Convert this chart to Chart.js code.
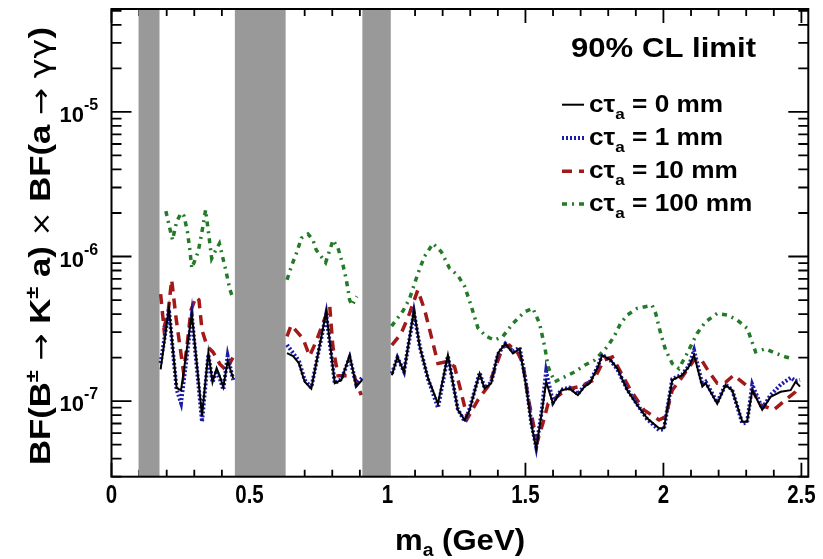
<!DOCTYPE html>
<html>
<head>
<meta charset="utf-8">
<script src="https://cdn.jsdelivr.net/npm/chart.js@4.4.1/dist/chart.umd.min.js"></script>
<style>
html, body { margin: 0; padding: 0; background: #fff; }
</style>
</head>
<body>
<canvas id="myChart" width="823" height="559"></canvas>
<script>
// m_a (GeV) for the 0 mm and 1 mm curves, null entries break the line at the vetoed regions
var mass0 = [0.178,0.208,0.236,0.252,0.291,0.328,0.351,0.366,0.381,0.393,0.405,0.421,0.441,
   0.54,
   0.636,0.658,0.679,0.700,0.724,0.778,0.809,0.833,0.863,0.887,0.908,
   0.96,
   1.016,1.036,1.060,1.096,1.117,1.147,1.183,1.219,1.255,1.280,1.298,1.322,1.334,1.352,1.376,1.400,
   1.427,1.455,1.479,1.503,1.521,1.539,1.557,1.575,1.600,1.630,1.660,1.690,1.714,1.733,1.763,1.778,
   1.809,1.833,1.869,1.905,1.941,1.984,2.002,2.032,2.068,2.092,2.111,2.141,2.153,2.195,2.225,2.249,
   2.286,2.303,2.322,2.358,2.388,2.425,2.461,2.479,2.495];
var limit0 = [1.66e-7,4.4e-7,1.23e-7,1.19e-7,4.0e-7,7.9e-8,2.17e-7,1.35e-7,1.69e-7,1.47e-7,1.25e-7,1.89e-7,1.44e-7,
   null,
   2.15e-7,2.05e-7,1.83e-7,1.36e-7,1.22e-7,4.15e-7,1.33e-7,1.40e-7,2.08e-7,1.26e-7,1.40e-7,
   null,
   1.51e-7,2.02e-7,1.59e-7,4.26e-7,2.37e-7,1.44e-7,9.6e-8,2.08e-7,8.7e-8,7.4e-8,8.7e-8,1.29e-7,1.55e-7,1.22e-7,1.33e-7,2.14e-7,
   2.5e-7,2.14e-7,2.3e-7,1.26e-7,7.0e-8,4.7e-8,7.8e-8,1.36e-7,9.6e-8,1.19e-7,1.22e-7,1.10e-7,1.26e-7,1.33e-7,1.73e-7,2.08e-7,
   1.92e-7,1.68e-7,1.19e-7,9.4e-8,7.6e-8,6.5e-8,6.5e-8,1.40e-7,1.51e-7,1.73e-7,2.08e-7,1.26e-7,1.33e-7,9.6e-8,1.29e-7,1.19e-7,
   7.2e-8,7.2e-8,1.19e-7,8.7e-8,1.07e-7,1.16e-7,1.19e-7,1.36e-7,1.26e-7];
var limit1 = [1.83e-7,4.3e-7,1.2e-7,9.7e-8,3.9e-7,7.2e-8,2.1e-7,1.35e-7,1.62e-7,1.42e-7,1.2e-7,2.05e-7,1.4e-7,
   null,
   2.45e-7,2.15e-7,1.9e-7,1.4e-7,1.24e-7,4.0e-7,1.33e-7,1.42e-7,2.0e-7,1.3e-7,1.45e-7,
   null,
   1.55e-7,2.0e-7,1.6e-7,4.1e-7,2.4e-7,1.42e-7,9.0e-8,2.05e-7,8.8e-8,7.2e-8,8.9e-8,1.3e-7,1.57e-7,1.24e-7,1.35e-7,2.1e-7,
   2.5e-7,2.2e-7,2.35e-7,1.3e-7,7.1e-8,4.8e-8,8.0e-8,1.6e-7,9.8e-8,1.2e-7,1.24e-7,1.12e-7,1.28e-7,1.35e-7,1.75e-7,2.1e-7,
   1.9e-7,1.66e-7,1.2e-7,9.5e-8,7.5e-8,6.3e-8,6.4e-8,1.42e-7,1.53e-7,1.75e-7,2.25e-7,1.3e-7,1.36e-7,9.8e-8,1.3e-7,1.2e-7,
   7.0e-8,7.1e-8,1.3e-7,8.9e-8,1.1e-7,1.3e-7,1.45e-7,1.38e-7,1.4e-7];

var mass10 = [0.178,0.190,0.205,0.218,0.234,0.245,0.261,0.274,0.288,0.306,0.317,0.328,0.346,0.368,0.393,0.415,0.440,
   0.54,
   0.636,0.651,0.694,0.718,0.742,0.766,0.791,0.802,0.821,0.846,0.879,0.905,
   0.96,
   1.016,1.050,1.080,1.110,1.135,1.159,1.183,1.213,1.243,1.262,1.290,1.328,1.364,1.388,1.418,1.442,
   1.473,1.491,1.509,1.533,1.545,1.563,1.582,1.606,1.630,1.660,1.696,1.748,1.784,1.815,1.881,1.929,
   1.984,2.008,2.032,2.068,2.111,2.135,2.165,2.195,2.225,2.255,2.322,2.352,2.400,2.443,2.479,2.497];
var limit10 = [5.5e-7,3.2e-7,4.1e-7,6.9e-7,3.75e-7,2.64e-7,1.59e-7,2.44e-7,4.26e-7,5.25e-7,5.0e-7,3.1e-7,2.4e-7,2.18e-7,1.8e-7,1.64e-7,2.0e-7,
   null,
   2.8e-7,3.35e-7,2.7e-7,2.05e-7,2.6e-7,3.45e-7,4.5e-7,2.4e-7,1.5e-7,1.5e-7,1.5e-7,1.1e-7,
   null,
   2.44e-7,2.94e-7,4.04e-7,5.86e-7,4.26e-7,2.79e-7,1.82e-7,1.87e-7,1.73e-7,1.26e-7,7.6e-8,1.02e-7,1.26e-7,1.64e-7,2.37e-7,2.44e-7,
   2.14e-7,1.82e-7,1.07e-7,6.3e-8,5.4e-8,7.0e-8,9.6e-8,1.04e-7,1.13e-7,1.22e-7,1.26e-7,1.40e-7,1.92e-7,2.02e-7,1.19e-7,8.7e-8,
   7.4e-8,7.8e-8,1.19e-7,1.47e-7,1.92e-7,1.97e-7,1.59e-7,1.33e-7,1.35e-7,1.51e-7,1.19e-7,9.4e-8,8.7e-8,1.02e-7,1.16e-7,1.26e-7];

var mass100 = [0.197,0.221,0.236,0.252,0.263,0.275,0.284,0.291,0.303,0.314,0.327,0.341,0.351,0.363,0.375,0.391,0.408,0.415,0.429,0.441,
   0.54,
   0.636,0.648,0.658,0.670,0.688,0.712,0.730,0.742,0.760,0.776,0.791,0.803,0.821,0.839,0.851,0.863,0.872,0.889,
   0.96,
   1.015,1.056,1.080,1.110,1.134,1.165,1.195,1.225,1.255,1.280,1.304,1.328,1.358,1.388,1.418,1.455,1.497,
   1.527,1.551,1.570,1.582,1.606,1.642,1.678,1.714,1.751,1.796,1.821,1.845,1.869,1.905,1.959,1.972,
   1.990,2.008,2.032,2.056,2.086,2.122,2.153,2.195,2.231,2.267,2.304,2.334,2.370,2.407,2.443,2.467];
var limit100 = [2.06e-6,1.30e-6,1.74e-6,2.0e-6,1.9e-6,1.49e-6,1.11e-6,8.3e-7,9.5e-7,1.08e-6,1.45e-6,2.1e-6,1.49e-6,9.7e-7,1.08e-6,1.23e-6,9.0e-7,7.9e-7,5.9e-7,5.1e-7,
   null,
   6.9e-7,8.1e-7,9.2e-7,1.05e-6,1.34e-6,1.43e-6,1.30e-6,1.11e-6,1.0e-6,9.1e-7,1.11e-6,1.30e-6,1.14e-6,8.7e-7,6.9e-7,5.0e-7,4.6e-7,5.3e-7,
   null,
   3.3e-7,4.2e-7,5.1e-7,7.6e-7,1.0e-6,1.23e-6,1.08e-6,8.3e-7,7.4e-7,6.2e-7,4.5e-7,3.2e-7,2.8e-7,2.64e-7,2.8e-7,3.45e-7,4.15e-7,
   4.38e-7,3.45e-7,2.37e-7,1.73e-7,1.36e-7,1.47e-7,1.59e-7,1.77e-7,1.92e-7,2.37e-7,2.79e-7,3.45e-7,3.94e-7,4.38e-7,4.6e-7,4.04e-7,
   2.94e-7,2.25e-7,1.82e-7,1.68e-7,2.14e-7,2.94e-7,3.54e-7,4.04e-7,3.94e-7,3.64e-7,3.18e-7,2.19e-7,2.3e-7,2.14e-7,2.02e-7,1.97e-7];

// grey vetoed mass windows (GeV)
var vetoBands = [[0.098, 0.174], [0.447, 0.631], [0.909, 1.012]];

var xTickValues = [0, 0.5, 1, 1.5, 2, 2.5];
var xTickLabels = ['0', '0.5', '1', '1.5', '2', '2.5'];
var yTickExponents = [-5, -6, -7];
var legendLabels = ['0 mm', '1 mm', '10 mm', '100 mm'];
var legendHeader = '90% CL limit';

function zip(xs, ys) {
   var out = [];
   for (var i = 0; i < xs.length; i++) out.push({ x: xs[i], y: ys[i] });
   return out;
}

var lineStyles = [
   { color: '#000000', width: 2, dash: [] },
   { color: '#1c1ca8', width: 4, dash: [2, 2] },
   { color: '#a31818', width: 3.5, dash: [10, 7] },
   { color: '#237a27', width: 3.5, dash: [5, 5, 2, 5] }
];

var BOLD = 'Liberation Sans, Arial, sans-serif';
var SYM = 'DejaVu Sans, sans-serif';

// draws a row of text pieces (sub/superscripts) stretched horizontally by sx
function drawPieces(ctx, pieces, x, y, sx) {
   ctx.save();
   ctx.translate(x, y);
   ctx.scale(sx, 1);
   var cx = 0;
   pieces.forEach(function (p) {
      ctx.font = p.font;
      ctx.fillText(p.text, cx, p.dy || 0);
      cx += ctx.measureText(p.text).width;
   });
   ctx.restore();
   return cx * sx;
}
function piecesWidth(ctx, pieces) {
   var w = 0;
   pieces.forEach(function (p) { ctx.font = p.font; w += ctx.measureText(p.text).width; });
   return w;
}

var rootStyle = {
   id: 'rootStyle',
   beforeDatasetsDraw: function (chart) {
      var ctx = chart.ctx, a = chart.chartArea, x = chart.scales.x, y = chart.scales.y;
      ctx.save();
      // inward ticks
      ctx.strokeStyle = '#000';
      ctx.lineWidth = 1.8;
      ctx.beginPath();
      for (var i = 0; i <= 25; i++) {
         var px = x.getPixelForValue(i / 10);
         var len = i % 5 === 0 ? 14 : 7;
         ctx.moveTo(px, a.bottom); ctx.lineTo(px, a.bottom - len);
         ctx.moveTo(px, a.top); ctx.lineTo(px, a.top + len);
      }
      for (var e = -8; e <= -5; e++) {
         for (var m = 1; m <= 9; m++) {
            var v = m * Math.pow(10, e);
            if (v < y.min || v > y.max) continue;
            var py = y.getPixelForValue(v);
            var l = m === 1 ? 20 : 10;
            ctx.moveTo(a.left, py); ctx.lineTo(a.left + l, py);
            ctx.moveTo(a.right, py); ctx.lineTo(a.right - l, py);
         }
      }
      ctx.stroke();
      // veto bands
      ctx.fillStyle = '#999999';
      vetoBands.forEach(function (b) {
         var x0 = x.getPixelForValue(b[0]), x1 = x.getPixelForValue(b[1]);
         ctx.fillRect(x0, a.top, x1 - x0, a.bottom - a.top);
      });
      ctx.restore();
   },
   afterDraw: function (chart) {
      var ctx = chart.ctx, a = chart.chartArea, x = chart.scales.x, y = chart.scales.y;
      ctx.save();
      // frame
      ctx.strokeStyle = '#000';
      ctx.lineWidth = 2;
      ctx.strokeRect(a.left, a.top, a.right - a.left, a.bottom - a.top);

      ctx.fillStyle = '#000';
      ctx.textBaseline = 'alphabetic';
      ctx.textAlign = 'left';

      // x tick labels
      xTickValues.forEach(function (v, i) {
         var px = x.getPixelForValue(v);
         var pcs = [{ text: xTickLabels[i], font: 'bold 25px ' + BOLD }];
         var w = piecesWidth(ctx, pcs) * 0.82;
         drawPieces(ctx, pcs, px - w / 2, a.bottom + 26, 0.82);
      });

      // y tick labels 10^n
      yTickExponents.forEach(function (ex) {
         var py = y.getPixelForValue(Math.pow(10, ex));
         ctx.font = 'bold 22px ' + BOLD;
         var w10 = ctx.measureText('10').width;
         ctx.fillText('10', 84 - w10, py + 10);
         ctx.font = 'bold 16px ' + BOLD;
         ctx.fillText(String(ex), 84, py - 2);
      });

      // x title
      var xt = [
         { text: 'm', font: 'bold 29px ' + BOLD },
         { text: 'a', font: 'bold 18px ' + BOLD, dy: 6 },
         { text: ' (GeV)', font: 'bold 29px ' + BOLD }
      ];
      drawPieces(ctx, xt, 395, 550, 130 / piecesWidth(ctx, xt));

      // y title (rotated)
      var yt = [
         { text: 'BF(B', font: 'bold 30px ' + BOLD },
         { text: '\u00b1', font: 'bold 19px ' + BOLD, dy: -12 },
         { text: ' ', font: 'bold 30px ' + BOLD },
         { text: '\u2192', font: '28px ' + SYM },
         { text: ' K', font: 'bold 30px ' + BOLD },
         { text: '\u00b1', font: 'bold 19px ' + BOLD, dy: -12 },
         { text: ' a) ', font: 'bold 30px ' + BOLD },
         { text: '\u00d7', font: '26px ' + SYM },
         { text: ' BF(a ', font: 'bold 30px ' + BOLD },
         { text: '\u2192', font: '28px ' + SYM },
         { text: ' ', font: 'bold 30px ' + BOLD },
         { text: '\u03b3\u03b3', font: '29px ' + SYM },
         { text: ')', font: 'bold 30px ' + BOLD }
      ];
      ctx.save();
      ctx.translate(50, 465);
      ctx.rotate(-Math.PI / 2);
      drawPieces(ctx, yt, 0, 0, 438 / piecesWidth(ctx, yt));
      ctx.restore();

      // legend header
      var hd = [{ text: legendHeader, font: 'bold 28px ' + BOLD }];
      drawPieces(ctx, hd, 571, 57, 185 / piecesWidth(ctx, hd));

      // legend entries
      var base = [111.7, 145, 178.3, 211];
      legendLabels.forEach(function (lab, i) {
         var st = lineStyles[i];
         ctx.save();
         ctx.strokeStyle = st.color;
         ctx.lineWidth = st.width;
         ctx.setLineDash(st.dash);
         ctx.beginPath();
         ctx.moveTo(562, base[i] - 7);
         ctx.lineTo(584, base[i] - 7);
         ctx.stroke();
         ctx.restore();
         var pcs = [
            { text: 'c\u03c4', font: 'bold 23px ' + BOLD },
            { text: 'a', font: 'bold 15px ' + BOLD, dy: 7 },
            { text: ' = ' + lab, font: 'bold 23px ' + BOLD }
         ];
         drawPieces(ctx, pcs, 589, base[i], 1.14);
      });
      ctx.restore();
   }
};

var datasets = [
   { label: 'c\u03c4a = 0 mm', data: zip(mass0, limit0), order: 0 },
   { label: 'c\u03c4a = 1 mm', data: zip(mass0, limit1), order: 1 },
   { label: 'c\u03c4a = 10 mm', data: zip(mass10, limit10), order: 2 },
   { label: 'c\u03c4a = 100 mm', data: zip(mass100, limit100), order: 3 }
];
datasets.forEach(function (d, i) {
   d.borderColor = lineStyles[i].color;
   d.borderWidth = lineStyles[i].width;
   d.borderDash = lineStyles[i].dash;
   d.fill = false;
   d.pointRadius = 0;
   d.tension = 0;
   d.spanGaps = false;
});

var chart = new Chart(document.getElementById('myChart'), {
   type: 'line',
   data: { datasets: datasets },
   options: {
      responsive: false,
      animation: false,
      layout: { padding: { left: 0, top: 9, right: 14.7, bottom: 0 } },
      plugins: { legend: { display: false }, tooltip: { enabled: false } },
      scales: {
         x: {
            type: 'linear', min: 0, max: 2.525,
            ticks: { display: false }, grid: { display: false }, border: { display: false },
            afterFit: function (s) { s.height = 82.3; }
         },
         y: {
            type: 'logarithmic', min: 3e-8, max: 5.15e-5,
            ticks: { display: false }, grid: { display: false }, border: { display: false },
            afterFit: function (s) { s.width = 111.5; }
         }
      }
   },
   plugins: [rootStyle]
});
</script>
</body>
</html>
